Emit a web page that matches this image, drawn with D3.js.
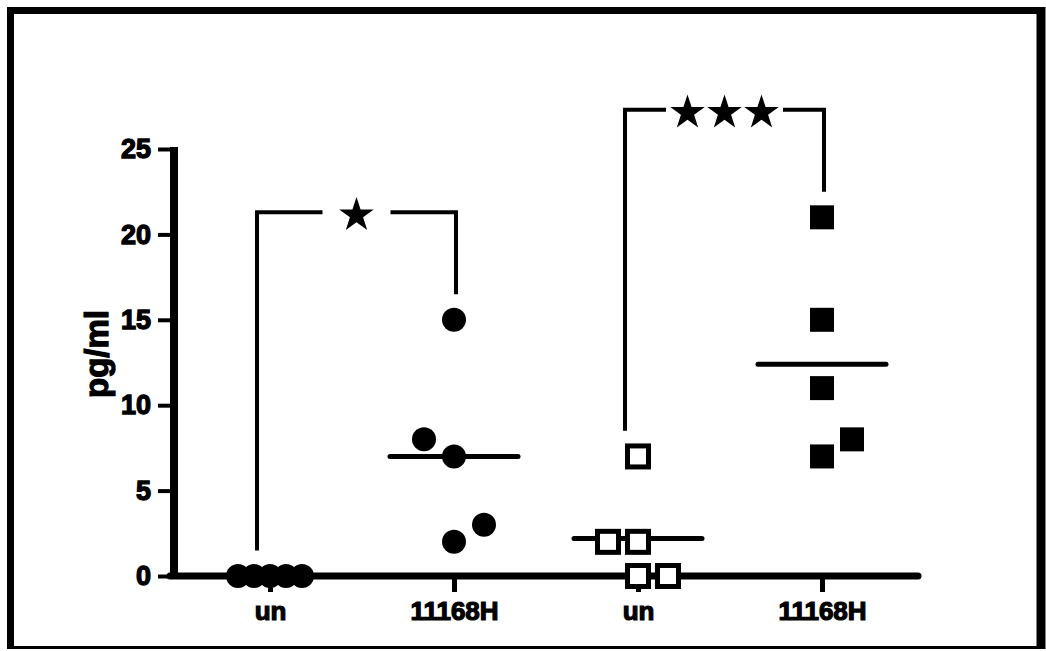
<!DOCTYPE html>
<html>
<head>
<meta charset="utf-8">
<script src="https://cdn.jsdelivr.net/npm/d3@7"></script>
<style>
  body { margin: 0; background: #fff; }
  text { font-family: "Liberation Sans", Arial, sans-serif; font-weight: bold; }
</style>
</head>
<body>
<div id="chart"></div>
<script>
// groups along the x axis and the values of each dot column
const categories = ["un", "11168H", "un", "11168H"];
const groupKeys = ["g1", "g2", "g3", "g4"];
const markerTypes = ["circle", "circle", "openSquare", "filledSquare"];
const g1Values = [0, 0, 0, 0, 0];
const g2Values = [15, 8, 7, 3, 2];
const g3Values = [7, 2, 2, 0, 0];
const g4Values = [21, 15, 11, 8, 7];
const yTicks = [0, 5, 10, 15, 20, 25];
const yLabel = "pg/ml";
// significance brackets: [first group, second group, number of stars]
const comparisons = [[0, 1, 1], [2, 3, 3]];

const groupValues = [g1Values, g2Values, g3Values, g4Values];

const W = 1046, H = 651;
const svg = d3.select("#chart").append("svg")
    .attr("width", W)
    .attr("height", H);

// outer frame
const frame = svg.append("g").attr("stroke", "#000");
frame.append("line").attr("x1", 7).attr("x2", 1041).attr("y1", 10.5).attr("y2", 10.5).attr("stroke-width", 7);
frame.append("line").attr("x1", 10.5).attr("x2", 10.5).attr("y1", 7).attr("y2", 649).attr("stroke-width", 7);
frame.append("line").attr("x1", 1041).attr("x2", 1041).attr("y1", 7).attr("y2", 649).attr("stroke-width", 9);
frame.append("line").attr("x1", 7).attr("x2", 1045).attr("y1", 647.5).attr("y2", 647.5).attr("stroke-width", 3);

const y = d3.scaleLinear().domain([0, 25]).range([576, 149]);
const x = d3.scalePoint().domain(groupKeys).range([270, 822]);
const axisX = 174, axisRight = 918;

// Y axis
const yAxis = svg.append("g")
    .attr("transform", `translate(${axisX},0)`)
    .call(d3.axisLeft(y).tickValues(yTicks).tickSize(16).tickSizeOuter(0).tickPadding(7));
yAxis.select(".domain").remove();
yAxis.selectAll(".tick line").attr("stroke", "#000").attr("stroke-width", 4);
yAxis.selectAll(".tick text")
    .attr("font-size", 27)
    .attr("fill", "#000")
    .attr("stroke", "#000").attr("stroke-width", 1.3)
    .attr("font-family", "'Liberation Sans', Arial, sans-serif")
    .attr("font-weight", "bold");
svg.append("line")
    .attr("x1", axisX).attr("x2", axisX)
    .attr("y1", y(25) - 2).attr("y2", y(0) + 3)
    .attr("stroke", "#000").attr("stroke-width", 8);

// X axis
const xAxis = svg.append("g")
    .attr("transform", `translate(0,${y(0)})`)
    .call(d3.axisBottom(x).tickSize(16).tickSizeOuter(0).tickPadding(6)
        .tickFormat((d, i) => categories[i]));
xAxis.select(".domain").remove();
xAxis.selectAll(".tick line").attr("stroke", "#000").attr("stroke-width", 5);
xAxis.selectAll(".tick text")
    .attr("font-size", 26)
    .attr("fill", "#000")
    .attr("stroke", "#000").attr("stroke-width", 1.2)
    .attr("dy", "0.85em")
    .attr("font-family", "'Liberation Sans', Arial, sans-serif")
    .attr("font-weight", "bold");
svg.append("line")
    .attr("x1", axisX - 4).attr("x2", axisRight)
    .attr("y1", y(0)).attr("y2", y(0))
    .attr("stroke", "#000").attr("stroke-width", 7).attr("stroke-linecap", "round");

// Y label
svg.append("text")
    .attr("transform", `translate(108,${y(13)}) rotate(-90)`)
    .attr("text-anchor", "middle")
    .attr("font-size", 33)
    .attr("stroke", "#000").attr("stroke-width", 1.2)
    .text(yLabel);

// spread points that would overlap, like a column scatter plot:
// a pair near the mean line shifts its upper point left, otherwise right
const markR = 12;
function swarm(values) {
    const mean = d3.mean(values);
    const order = values.map((v, i) => i).sort((a, b) => values[b] - values[a]);
    const rows = [];
    order.forEach(i => {
        const row = rows[rows.length - 1];
        if (row && Math.abs(y(values[row[row.length - 1]]) - y(values[i])) < markR * 1.8) row.push(i);
        else rows.push([i]);
    });
    const offsets = new Array(values.length).fill(0);
    rows.forEach(row => {
        if (row.length === 2) {
            const nearMean = row.some(i => Math.abs(values[i] - mean) < 1);
            offsets[row[0]] = (nearMean ? -1 : 1) * 30;
        } else if (row.length > 2) {
            const step = Math.min(30, 64 / (row.length - 1));
            row.slice().sort((a, b) => a - b).forEach((i, j) => {
                offsets[i] = (j - (row.length - 1) / 2) * step;
            });
        }
    });
    return offsets;
}

// group means
svg.append("g").selectAll("line")
    .data(groupKeys)
    .join("line")
    .attr("x1", d => x(d) - 64)
    .attr("x2", d => x(d) + 64)
    .attr("y1", (d, i) => y(d3.mean(groupValues[i])))
    .attr("y2", (d, i) => y(d3.mean(groupValues[i])))
    .attr("stroke", "#000").attr("stroke-width", 5).attr("stroke-linecap", "round");

// points
groupKeys.forEach((key, gi) => {
    const vals = groupValues[gi];
    const offs = swarm(vals);
    const pts = vals.map((v, i) => ({ v, cx: x(key) + offs[i], cy: y(v) }));
    const g = svg.append("g");
    if (markerTypes[gi] === "circle") {
        g.selectAll("circle").data(pts).join("circle")
            .attr("cx", d => d.cx).attr("cy", d => d.cy).attr("r", markR)
            .attr("fill", "#000");
    } else if (markerTypes[gi] === "openSquare") {
        const s = 21;
        g.selectAll("rect").data(pts).join("rect")
            .attr("x", d => d.cx - s / 2).attr("y", d => d.cy - s / 2)
            .attr("width", s).attr("height", s)
            .attr("fill", "#fff").attr("stroke", "#000").attr("stroke-width", 5);
    } else {
        const s = 24;
        g.selectAll("rect").data(pts).join("rect")
            .attr("x", d => d.cx - s / 2).attr("y", d => d.cy - s / 2)
            .attr("width", s).attr("height", s)
            .attr("fill", "#000");
    }
});

// significance brackets
const star = d3.symbol().type(d3.symbolStar).size(370);
comparisons.forEach(([a, b, n]) => {
    const maxA = d3.max(groupValues[a]), maxB = d3.max(groupValues[b]);
    const level = y(Math.max(maxA, maxB) + 6.3);
    const xa = x(groupKeys[a]) - 13, xb = x(groupKeys[b]) + 2;
    const mid = (xa + xb) / 2;
    const spacing = 37;
    const gapHalf = n === 1 ? 34 : (n * spacing) / 2 + 3;
    const g = svg.append("g").attr("stroke", "#000").attr("stroke-width", 4).attr("fill", "none");
    g.append("path").attr("d", `M${xa},${y(maxA + 1.5)}V${level}H${mid - gapHalf}`);
    g.append("path").attr("d", `M${mid + gapHalf},${level}H${xb}V${y(maxB + 1.5)}`);
    d3.range(n).forEach(k => {
        svg.append("path")
            .attr("d", star)
            .attr("transform", `translate(${mid + (k - (n - 1) / 2) * spacing},${level + 3})`)
            .attr("fill", "#000");
    });
});
</script>
</body>
</html>
